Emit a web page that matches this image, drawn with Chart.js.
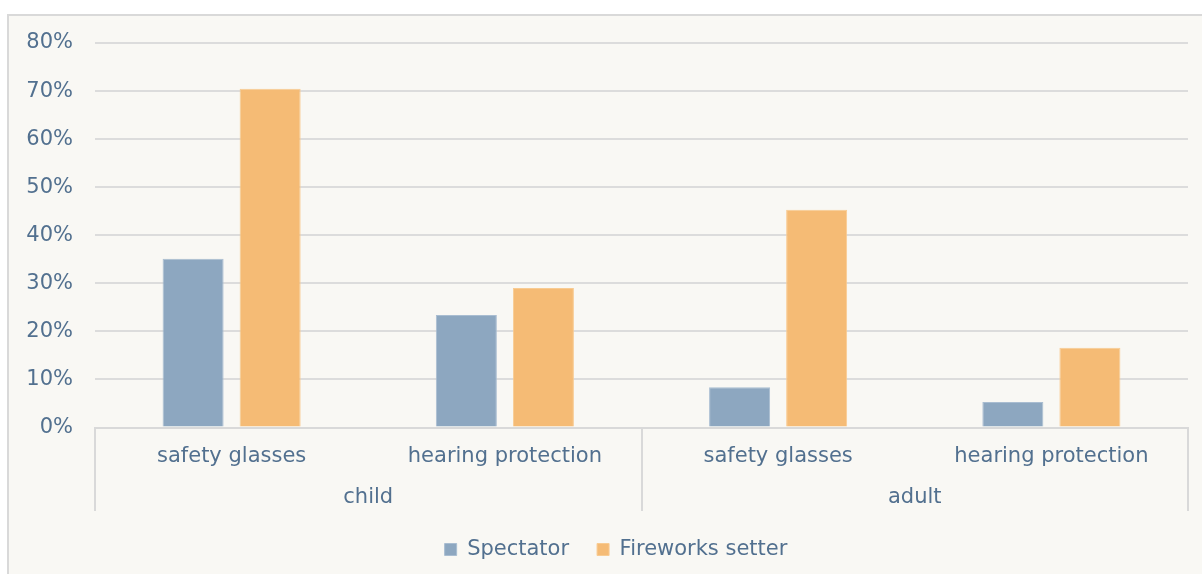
<!DOCTYPE html>
<html>
<head>
<meta charset="utf-8">
<script src="https://cdn.jsdelivr.net/npm/chart.js@4/dist/chart.umd.min.js"></script>
<style>
  html, body { margin: 0; padding: 0; background: #ffffff; width: 1202px; height: 574px; overflow: hidden; }
  #frame { position: absolute; left: 7px; top: 14px; width: 1220px; height: 580px;
           background: #f9f8f4; border-left: 2px solid #d9d9d9; border-top: 2px solid #d9d9d9; box-sizing: border-box; }
  #wrap { position: absolute; left: 0; top: 0; width: 1202px; height: 574px; }
</style>
</head>
<body>
<div id="frame"></div>
<div id="wrap"><canvas id="c" width="1202" height="574"></canvas></div>
<script>
const subCategories = ['safety glasses', 'hearing protection', 'safety glasses', 'hearing protection'];
const groups = ['child', 'adult'];
const spectator = [35.1, 23.4, 8.4, 5.3];
const fireworksSetter = [70.5, 29.0, 45.3, 16.6];
const seriesNames = ['Spectator', 'Fireworks setter'];

const TEXT = '#52708f';
const FONT = { family: 'DejaVu Sans', size: 21 };

const separators = {
  id: 'separators',
  afterDraw(chart) {
    const x2 = chart.scales.x2;
    const ctx = chart.ctx;
    const top = chart.chartArea.bottom;
    const bottom = x2.bottom;
    const mid = (x2.getPixelForValue(0) + x2.getPixelForValue(1)) / 2;
    ctx.save();
    ctx.strokeStyle = '#d9d9d9';
    ctx.lineWidth = 2;
    [x2.left, mid, x2.right].forEach(px => {
      ctx.beginPath();
      ctx.moveTo(Math.round(px), top);
      ctx.lineTo(Math.round(px), bottom);
      ctx.stroke();
    });
    ctx.restore();
  }
};

// the reference legend is centred on the full (wider) original frame
const legendShift = {
  id: 'legendShift',
  afterLayout(chart) {
    const l = chart.legend;
    l.left += 15; l.right += 15;
  }
};

new Chart(document.getElementById('c'), {
  type: 'bar',
  data: {
    labels: subCategories,
    datasets: [
      { label: seriesNames[0], data: spectator, backgroundColor: '#8da7c0', borderColor: '#a9bdd1', borderWidth: 1,
        categoryPercentage: 0.564, barPercentage: 0.792 },
      { label: seriesNames[1], data: fireworksSetter, backgroundColor: '#f5bb75', borderColor: '#f8cb92', borderWidth: 1,
        categoryPercentage: 0.564, barPercentage: 0.792 }
    ]
  },
  options: {
    responsive: false,
    animation: false,
    layout: { padding: { top: 43, left: 14, right: 14, bottom: 4 } },
    plugins: {
      legend: {
        position: 'bottom',
        labels: { color: TEXT, font: FONT, boxWidth: 12, boxHeight: 12, padding: 28 }
      },
      tooltip: { enabled: false }
    },
    scales: {
      y: {
        min: 0, max: 80,
        afterFit: s => { s.width = 81; },
        ticks: { stepSize: 10, color: TEXT, font: FONT, padding: 22, callback: v => v + '%' },
        grid: { color: '#dcdcdc', lineWidth: 2, drawTicks: false },
        border: { display: false }
      },
      x: {
        afterFit: s => { s.height = 41; },
        ticks: { color: TEXT, font: FONT, padding: 16, autoSkip: false, maxRotation: 0 },
        grid: { display: false, drawTicks: false },
        border: { display: true, color: '#d9d9d9', width: 2 }
      },
      x2: {
        type: 'category',
        labels: groups,
        position: 'bottom',
        offset: true,
        afterFit: s => { s.height = 42.5; },
        ticks: { color: TEXT, font: FONT, padding: 16, maxRotation: 0 },
        grid: { display: false, drawTicks: false },
        border: { display: false }
      }
    }
  },
  plugins: [separators, legendShift]
});
</script>
</body>
</html>
